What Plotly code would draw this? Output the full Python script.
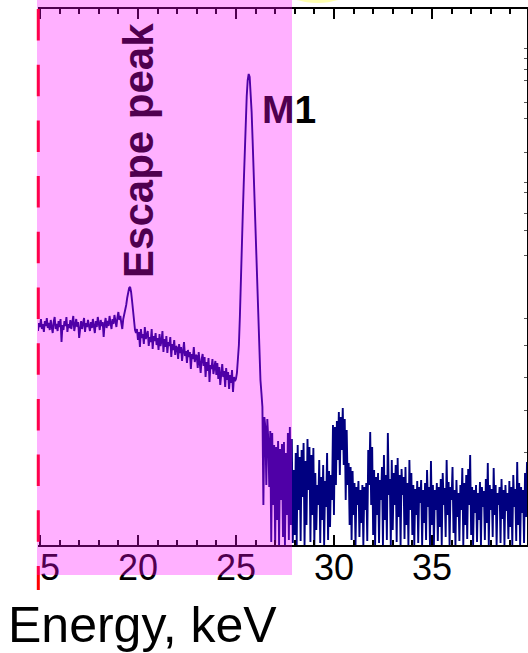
import numpy as np
import plotly.graph_objects as go

# EDX spectrum, 0.05 keV channels starting at 14.90 keV (intensity, a.u.)
E_START = 14.90
E_STEP = 0.05

counts_149_199 = [
    214, 222, 218, 226, 216, 221, 213, 224, 219, 227, 217,
    222, 215, 225, 218, 212, 223, 228, 216, 221, 214, 224,
    218, 226, 203, 220, 215, 224, 219, 228, 213, 221, 217,
    225, 216, 222, 229, 214, 220, 226, 218, 223, 207, 219,
    224, 216, 221, 227, 213, 222, 218, 225, 219, 214, 223,
    217, 226, 220, 212, 224, 218, 228, 221, 215, 225, 219,
    223, 208, 221, 227, 217, 224, 219, 229, 222, 216, 226,
    221, 230, 224, 218, 227, 233, 225, 229, 222, 216, 226, 230,
    # escape peak
    233, 240, 247, 253, 257, 258, 253, 244, 234, 224, 215, 212, 216,
]

counts_200_249 = [
    205, 213, 198, 216, 207, 211, 201, 218, 206, 210,
    214, 199, 208, 203, 216, 196, 209, 204, 212, 200,
    207, 195, 211, 199, 204, 214, 193, 206, 198, 209,
    192, 203, 199, 208, 188, 201, 195, 205, 190, 199,
    197, 186, 201, 192, 198, 184, 196, 203, 189, 194,
    182, 195, 188, 193, 176, 191, 186, 198, 183, 190,
    189, 177, 193, 182, 172, 186, 191, 179, 188, 168,
    183, 174, 187, 163, 180, 176, 186, 171, 179, 184,
    170, 182, 166, 178, 160, 175, 181, 168, 174, 158,
    177, 165, 173, 156, 170, 162, 175, 153, 168, 164,
]

counts_250_299 = [
    # M1 line
    166, 172, 185, 200, 228, 270, 301, 332, 363, 396,
    425, 449, 465, 471, 468, 455, 433, 405, 376, 342,
    309, 279, 245, 215, 185, 165, 152, 138, 40, 128,
    118, 60, 126, 105, 58, 114, 3, 112, 40, 100,
    2, 98, 25, 104, 0, 96, 45, 101, 8, 103,
    0, 92, 30, 112, 5, 118, 20, 106,
    # background above the absorption edge
    2, 75, 10, 92, 0, 100, 35, 88, 4, 95,
    48, 102, 0, 84, 20, 106, 55, 98, 3, 90,
    30, 97, 0, 72, 15, 60, 40, 85, 2, 68,
    25, 80, 0, 64, 38, 92, 5, 74, 18, 70,
    45, 120,
]

counts_300_349 = [
    30, 118, 60, 124, 85, 133, 70, 128, 95, 137,
    80, 126, 45, 115, 60, 82, 20, 78, 5, 74,
    30, 62, 0, 58, 40, 64, 8, 55, 22, 60,
    0, 58, 35, 62, 4, 95, 60, 113, 40, 98,
    10, 75, 0, 68, 30, 72, 2, 65, 45, 78,
    0, 90, 25, 70, 5, 112, 50, 66, 0, 85,
    15, 72, 40, 80, 3, 87, 28, 70, 0, 76,
    50, 68, 6, 78, 20, 62, 0, 85, 35, 72,
    10, 60, 0, 56, 30, 64, 2, 58, 42, 65,
    0, 55, 22, 62, 5, 75, 38, 58, 0, 84,
]

counts_350_399 = [
    20, 60, 0, 55, 35, 62, 4, 58, 18, 66,
    0, 72, 40, 57, 8, 85, 30, 63, 0, 58,
    45, 78, 12, 55, 0, 65, 28, 52, 4, 60,
    35, 77, 0, 62, 20, 70, 6, 76, 40, 90,
    10, 58, 0, 55, 32, 60, 3, 52, 25, 63,
    0, 58, 38, 54, 5, 66, 22, 82, 0, 60,
    35, 56, 8, 77, 30, 60, 0, 52, 40, 58,
    2, 66, 26, 55, 0, 60, 34, 52, 6, 64,
    18, 58, 0, 70, 38, 56, 4, 83, 20, 62,
    0, 58, 32, 55, 2, 72, 28, 83,
]

counts = np.array(counts_149_199 + counts_200_249 + counts_250_299
                  + counts_300_349 + counts_350_399, dtype=float)
energy = np.round(E_START + E_STEP * np.arange(len(counts)), 3)

x_range = [14.9, 39.85]
y_range = [0, 536]
x_tick_vals = [15, 20, 25, 30, 35]
x_tick_text = ["15", "20", "25", "30", "35"]
y_minor_ticks = [497, 487, 476, 465, 443, 427, 393, 363, 353, 332, 315, 290,
                 227, 200, 168, 135, 93]

W, H = 528, 653
ML, MR, MT, MB = 38, 1, 9, 108
PW, PH = W - ML - MR, H - MT - MB


def px_x(px):
    """Pixel column -> paper x."""
    return (px - ML) / PW


def px_y(py):
    """Pixel row -> paper y."""
    return (H - MB - py) / PH


FONT = "Arial, Liberation Sans, sans-serif"
TINT = "#4f004f"

fig = go.Figure()
fig.add_trace(go.Scatter(
    x=energy, y=counts, mode="lines",
    line=dict(color="#000080", width=1.9),
    showlegend=False, hoverinfo="skip",
))

fig.update_layout(
    width=W, height=H,
    margin=dict(l=ML, r=MR, t=MT, b=MB),
    paper_bgcolor="white", plot_bgcolor="white",
    font=dict(family=FONT, color="black"),
    showlegend=False,
    xaxis=dict(
        range=x_range, showgrid=False, zeroline=False,
        showline=True, linecolor="black", linewidth=2, mirror="ticks",
        ticks="inside", ticklen=10, tickwidth=1.5, tickcolor="black",
        tickvals=x_tick_vals, ticktext=x_tick_text,
        tickfont=dict(size=36, family=FONT, color="black"),
        ticklabelstandoff=-10,
        minor=dict(dtick=1, tick0=0, ticks="inside", ticklen=5,
                   tickwidth=1.5, tickcolor="black", showgrid=False),
    ),
    yaxis=dict(
        range=y_range, side="right", showgrid=False, zeroline=False,
        showline=True, linecolor="black", linewidth=2,
        ticks="inside", ticklen=3, tickwidth=1, tickcolor="#555",
        tickvals=y_minor_ticks, showticklabels=False,
    ),
)

shapes = [
    # blank strip left of the frame
    dict(type="rect", xref="paper", yref="paper",
         x0=px_x(0), x1=px_x(37), y0=px_y(600), y1=px_y(0),
         fillcolor="white", line=dict(width=0), layer="above"),
    # red dashed marker
    dict(type="line", xref="paper", yref="paper",
         x0=px_x(38.3), x1=px_x(38.3), y0=px_y(9), y1=px_y(590),
         line=dict(color="#ff0000", width=3, dash="31.5px,24.2px"),
         layer="above"),
    # yellow highlight at the top edge
    dict(type="circle", xref="paper", yref="paper",
         x0=px_x(290), x1=px_x(345), y0=px_y(3), y1=px_y(-15),
         fillcolor="#ffffb0", line=dict(width=0), layer="above"),
    # magenta highlight over the low-energy part of the spectrum
    dict(type="rect", xref="paper", yref="paper",
         x0=px_x(37), x1=px_x(292), y0=px_y(575), y1=px_y(0),
         fillcolor="rgba(255,0,255,0.31)", line=dict(width=0), layer="above"),
]
fig.update_layout(shapes=shapes)

fig.add_annotation(
    x=20.0, y=395, xref="x", yref="y", text="<b>Escape peak</b>",
    textangle=-90, showarrow=False,
    font=dict(size=42, family=FONT, color=TINT),
)
fig.add_annotation(
    x=27.72, y=436, xref="x", yref="y",
    text="<b><span style='color:%s'>M</span>1</b>" % TINT,
    showarrow=False, font=dict(size=39, family=FONT, color="black"),
)
fig.add_annotation(
    x=px_x(6), y=px_y(625), xref="paper", yref="paper",
    xanchor="left", yanchor="middle", text="Energy, keV",
    showarrow=False, font=dict(size=50, family=FONT, color="black"),
)

fig.write_html("out.html")
